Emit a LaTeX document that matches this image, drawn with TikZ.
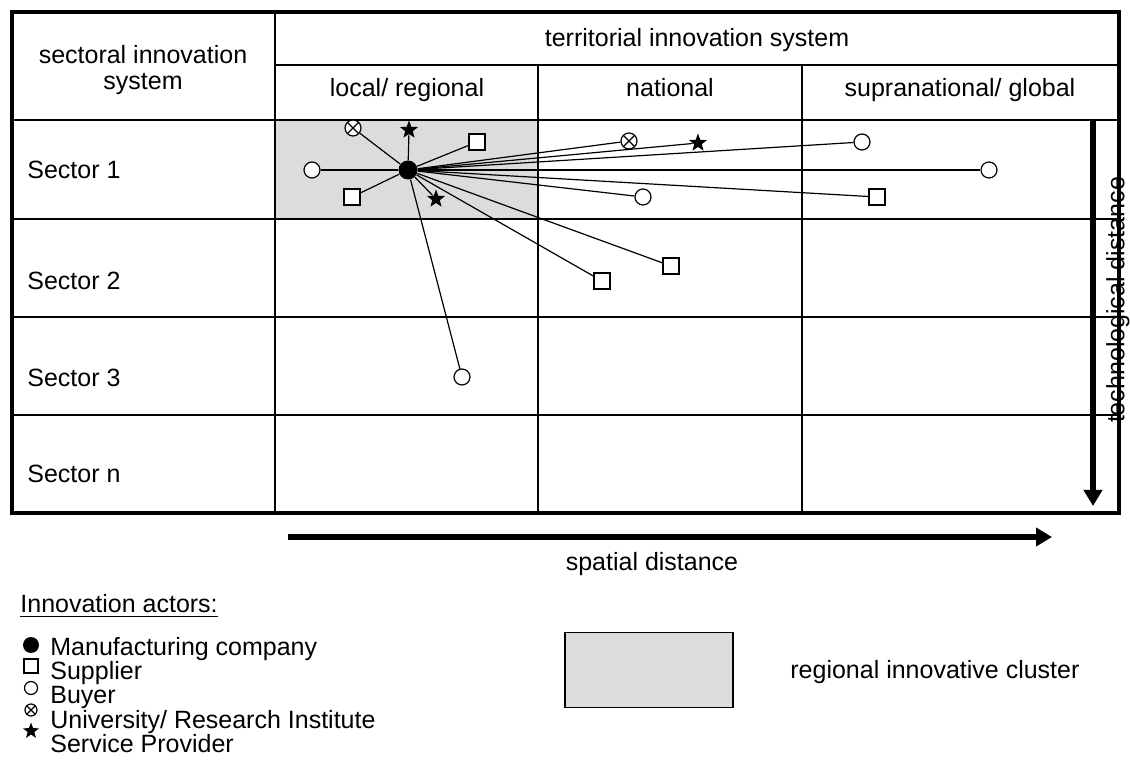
\documentclass[tikz,border=0pt]{standalone}
\usepackage{fontspec}
\setmainfont{Liberation Sans}
\usetikzlibrary{shapes.geometric,arrows.meta}
\definecolor{clustergray}{HTML}{DCDCDC}
\begin{document}
\begin{tikzpicture}[x=0.5pt,y=-0.5pt,
  txt/.style={font=\fontsize{12.5}{13}\selectfont,inner sep=0pt,anchor=base},
  company/.style={circle,fill=black,inner sep=0pt,minimum size=9.5pt},
  supplier/.style={rectangle,draw,fill=white,inner sep=0pt,minimum size=8pt,line width=0.6pt},
  buyer/.style={circle,draw,fill=white,inner sep=0pt,minimum size=8pt,line width=0.6pt},
  univ/.style={circle,draw,fill=white,inner sep=0pt,minimum size=8pt,line width=0.6pt,
    path picture={\draw[line width=0.6pt] (path picture bounding box.north west)--(path picture bounding box.south east)
      (path picture bounding box.north east)--(path picture bounding box.south west);}},
  service/.style={star,star points=5,star point ratio=2.4,fill=black,inner sep=0pt,minimum size=9.5pt},
  link/.style={line width=0.6pt},
  outer/.style={line width=2pt},
  inner/.style={line width=1pt},
  bigarrow/.style={line width=3pt,-{Triangle[length=8pt,width=9pt]}}
]
\useasboundingbox (0,0) rectangle (1130,774);

% cluster shading
\fill[clustergray] (275,120) rectangle (538,219);

% grid
\draw[inner] (275,65) -- (1119,65);
\draw[inner] (12,120) -- (1119,120);
\draw[inner] (12,219) -- (1119,219);
\draw[inner] (12,317) -- (1119,317);
\draw[inner] (12,415) -- (1119,415);
\draw[inner] (275,12) -- (275,513);
\draw[inner] (538,65) -- (538,513);
\draw[inner] (802,65) -- (802,513);
\draw[outer] (12,12) rectangle (1119,513);

% headers
\node[txt,align=center] (hsec) at (143,90) {sectoral innovation\\system};
\node[txt] (hterr) at (697,47) {territorial innovation system};
\node[txt] (hloc) at (407,97) {local/ regional};
\node[txt] (hnat) at (670,97) {national};
\node[txt] (hsup) at (960,97) {supranational/ global};
\node[txt,anchor=base west] (r1) at (27,179) {Sector 1};
\node[txt,anchor=base west] (r2) at (27,290) {Sector 2};
\node[txt,anchor=base west] (r3) at (27,387) {Sector 3};
\node[txt,anchor=base west] (r4) at (27,483) {Sector n};

% actors
\node[company] (M) at (408,170) {};
\node[univ] (u1) at (353,128) {};
\node[service] (s1) at (409,130) {};
\node[supplier] (p1) at (477,142) {};
\node[buyer] (b1) at (312,170) {};
\node[supplier] (p2) at (352,197) {};
\node[service] (s2) at (436,199) {};
\node[univ] (u2) at (629,141) {};
\node[service] (s3) at (698,143) {};
\node[buyer] (b2) at (862,142) {};
\node[buyer] (b3) at (989,170) {};
\node[buyer] (b4) at (643,197) {};
\node[supplier] (p3) at (877,197) {};
\node[supplier] (p4) at (602,281) {};
\node[supplier] (p5) at (671,266) {};
\node[buyer] (b5) at (462,377) {};

\foreach \n in {u1,s1,p1,b1,p2,s2,u2,s3,b2,b3,b4,p3,p4,p5,b5}
  \draw[link] (M) -- (\n);

% axes
\coordinate (hx0) at (288,537);
\coordinate (hx1) at (1052,537);
\draw[bigarrow] (hx0) -- (hx1);
\node[txt] (hlab) at (652,571) {spatial distance};
\coordinate (vy0) at (1093,120);
\coordinate (vy1) at (1093,506);
\draw[bigarrow] (vy0) -- (vy1);
\node[txt,rotate=90,anchor=center] (vlab) at (1118,300) {technological distance};

% legend
\node[txt,anchor=base west] (lt) at (20,613) {\underline{Innovation actors:}};
\node[company,minimum size=8pt] (lm) at (31,645) {};
\node[txt,anchor=base west] (lmt) at (50,655) {Manufacturing company};
\node[supplier,minimum size=7pt] (lsq) at (31,666) {};
\node[txt,anchor=base west] (lsqt) at (50,680) {Supplier};
\node[buyer,minimum size=6.5pt] (lb) at (31,688) {};
\node[txt,anchor=base west] (lbt) at (50,704) {Buyer};
\node[univ,minimum size=6pt] (lu) at (31,710) {};
\node[txt,anchor=base west] (lut) at (50,728) {University/ Research Institute};
\node[service,minimum size=8.5pt] (ls) at (31,731) {};
\node[txt,anchor=base west] (lst) at (50,752) {Service Provider};

\node[draw,fill=clustergray,line width=0.8pt,minimum width=84pt,minimum height=37.5pt,inner sep=0pt] (lc) at (649,670) {};
\node[txt,anchor=base west] (lct) at (790,679) {regional innovative cluster};
\end{tikzpicture}
\end{document}
